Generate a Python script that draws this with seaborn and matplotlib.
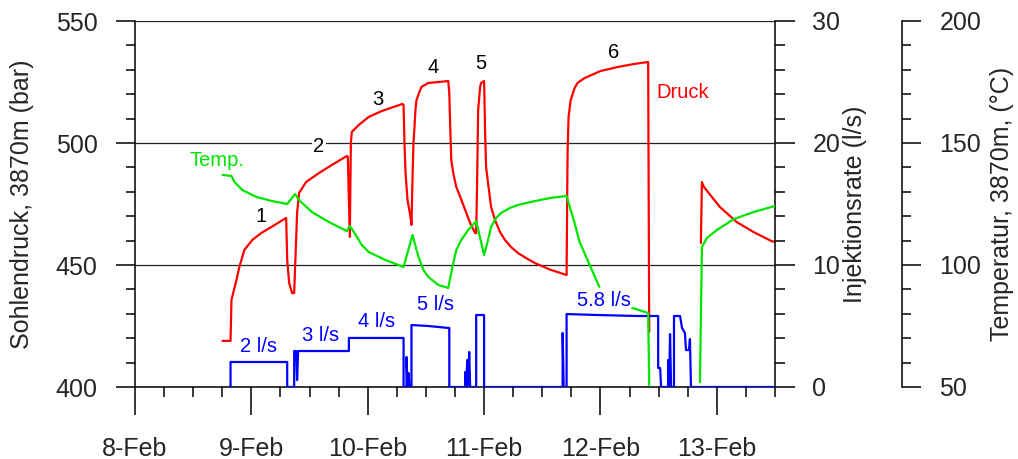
import numpy as np
import pandas as pd
import matplotlib
matplotlib.use("Agg")
import matplotlib.pyplot as plt
import seaborn as sns
from matplotlib.ticker import MultipleLocator, FixedLocator

# ---------------- data (x = days since 8-Feb 00:00) ----------------
x_ticks = [0, 1, 2, 3, 4, 5]
x_labels = ["8-Feb", "9-Feb", "10-Feb", "11-Feb", "12-Feb", "13-Feb"]

# bottom-hole pressure (bar), two recorded stretches
druck_tage_1 = [0.752, 0.821, 0.829, 0.872, 0.897, 0.940, 1.009, 1.085, 1.214, 1.299,
                1.308, 1.325, 1.350, 1.368, 1.376, 1.393, 1.410, 1.470, 1.581, 1.692,
                1.821, 1.829, 1.846, 1.855, 1.863, 1.923, 2.009, 2.120, 2.299, 2.308,
                2.316, 2.325, 2.342, 2.368, 2.376,
                2.385, 2.393, 2.402, 2.410, 2.419, 2.444, 2.462, 2.521, 2.607, 2.692,
                2.701, 2.709, 2.718, 2.735, 2.761, 2.795, 2.838, 2.880, 2.923,
                2.932, 2.940, 2.949, 2.966, 2.974, 3.000,
                3.009, 3.017, 3.034, 3.060, 3.094, 3.137, 3.179, 3.231, 3.291, 3.359,
                3.436, 3.573, 3.709,
                3.715, 3.718, 3.726, 3.744, 3.778, 3.803, 3.863, 4.000, 4.145, 4.291,
                4.410, 4.419]
druck_bar_1 = [418.9, 418.9, 435.7, 443.9, 449.2, 456.2, 460.3, 463.1, 466.8, 469.3,
               452.1, 442.6, 438.5, 438.5, 449.2, 471.3, 479.5, 484.0, 487.7, 491.0,
               494.7, 494.3, 461.5, 500.0, 504.5, 507.4, 510.7, 513.1, 516.0, 515.6,
               500.0, 487.7, 476.6, 469.7, 466.4,
               486.1, 500.0, 506.6, 513.5, 517.6, 520.9, 523.0, 524.6, 525.0, 525.4,
               520.5, 506.6, 493.0, 487.7, 482.0, 477.9, 472.5, 467.2, 463.1,
               463.1, 483.6, 513.5, 523.0, 524.6, 525.4,
               504.1, 490.2, 483.6, 473.8, 468.4, 463.5, 460.3, 457.4, 454.9, 452.9,
               450.8, 448.0, 445.9,
               483.6, 497.1, 510.7, 517.6, 522.5, 524.6, 526.6, 529.5, 531.1, 532.4,
               533.2, 422.6]
druck_tage_2 = [4.863, 4.872, 4.889, 5.026, 5.171, 5.316, 5.470, 5.504]
druck_bar_2 = [459.0, 484.0, 482.0, 473.8, 467.6, 463.5, 459.8, 459.4]

# temperature (deg C), three recorded stretches
temp_tage_1 = [0.752, 0.829, 0.855, 0.923, 1.043, 1.179, 1.308, 1.376, 1.410, 1.521,
               1.667, 1.821, 1.846, 1.897, 1.949, 2.009, 2.154, 2.308, 2.385, 2.436,
               2.479, 2.521, 2.607, 2.692, 2.735, 2.761, 2.803, 2.863, 2.932, 3.000,
               3.034, 3.060, 3.103, 3.145, 3.222, 3.291, 3.436, 3.573, 3.709, 3.744,
               3.778, 3.821, 3.863, 3.915, 3.991]
temp_grad_1 = [136.9, 136.5, 134.0, 130.7, 127.9, 126.2, 125.0, 129.1, 126.6, 121.7,
               117.6, 113.9, 116.0, 112.3, 108.2, 105.3, 102.0, 99.2, 112.3, 103.3,
               97.9, 95.1, 91.8, 90.6, 100.8, 106.1, 110.2, 114.3, 118.0, 104.1,
               110.2, 115.6, 119.3, 121.3, 123.4, 124.6, 126.2, 127.5, 128.3, 122.5,
               117.2, 109.4, 104.9, 99.2, 91.0]
temp_tage_2 = [4.274, 4.410, 4.419]
temp_grad_2 = [82.4, 80.3, 50.8]
temp_tage_3 = [4.855, 4.872, 4.915, 5.000, 5.145, 5.316, 5.470, 5.504]
temp_grad_3 = [52.0, 107.4, 111.1, 114.3, 118.8, 121.7, 123.8, 124.2]

# injection rate (l/s)
rate_tage = [0.821, 0.821, 1.308, 1.308, 1.368, 1.368, 1.385, 1.393, 1.402, 1.838,
             1.838, 2.308, 2.308, 2.333, 2.333, 2.342, 2.350, 2.359, 2.376, 2.376,
             2.521, 2.692, 2.701, 2.701, 2.838, 2.838, 2.846, 2.855, 2.863, 2.872,
             2.880, 2.932, 2.932, 3.000, 3.000, 3.675, 3.675, 3.684, 3.709, 3.709,
             3.974, 4.316, 4.496, 4.496, 4.513, 4.521, 4.581, 4.581, 4.590, 4.598,
             4.607, 4.632, 4.632, 4.684, 4.701, 4.726, 4.735, 4.761, 4.769, 4.778,
             5.504]
rate_ls = [0.0, 2.05, 2.05, 0.0, 0.0, 2.95, 2.95, 0.57, 2.95, 2.95,
           4.02, 4.02, 0.0, 0.0, 2.46, 0.0, 1.15, 0.0, 0.0, 5.08,
           5.00, 4.84, 4.84, 0.0, 0.0, 1.23, 0.0, 2.21, 0.0, 2.87,
           0.0, 0.0, 5.90, 5.90, 0.0, 0.0, 4.43, 0.0, 0.0, 5.98,
           5.90, 5.82, 5.82, 1.56, 1.56, 0.0, 0.0, 2.21, 0.0, 4.34,
           0.0, 0.0, 5.82, 5.82, 4.84, 4.43, 3.03, 3.03, 3.93, 0.0,
           0.0]

# annotations
stufen_text = ["1", "2", "3", "4", "5", "6"]
stufen_x = [1.085, 1.581, 2.085, 2.564, 2.974, 4.111]
stufen_y = [469.7, 498.4, 518.0, 531.1, 532.4, 536.9]
raten_text = ["2 l/s", "3 l/s", "4 l/s", "5 l/s", "5.8 l/s"]
raten_x = [1.06, 1.598, 2.077, 2.581, 4.034]
raten_y = [416.4, 421.0, 427.0, 434.0, 435.6]

# ---------------- plotting ----------------
sns.set_style("ticks")
plt.rcParams["font.family"] = ["Liberation Sans", "DejaVu Sans"]
plt.rcParams["font.size"] = 18

RED, GREEN, BLUE = "#ff0000", "#00e600", "#0000ff"

fig = plt.figure(figsize=(10.18, 4.59), dpi=100)
ax1 = fig.add_axes([135 / 1018, 1 - 387 / 459, 640 / 1018, 366 / 459])
ax2 = ax1.twinx()
ax3 = ax1.twinx()

df_p = pd.DataFrame({"t": druck_tage_1 + druck_tage_2,
                     "v": druck_bar_1 + druck_bar_2,
                     "s": [1] * len(druck_tage_1) + [2] * len(druck_tage_2)})
df_t = pd.DataFrame({"t": temp_tage_1 + temp_tage_2 + temp_tage_3,
                     "v": temp_grad_1 + temp_grad_2 + temp_grad_3,
                     "s": [1] * len(temp_tage_1) + [2] * len(temp_tage_2) + [3] * len(temp_tage_3)})
df_r = pd.DataFrame({"t": rate_tage, "v": rate_ls})

sns.lineplot(data=df_t, x="t", y="v", units="s", estimator=None, sort=False,
             color=GREEN, lw=1.6, ax=ax3, legend=False)
sns.lineplot(data=df_r, x="t", y="v", estimator=None, sort=False,
             color=BLUE, lw=1.6, ax=ax2, legend=False)
sns.lineplot(data=df_p, x="t", y="v", units="s", estimator=None, sort=False,
             color=RED, lw=1.6, ax=ax1, legend=False)

for ax in (ax1, ax2, ax3):
    ax.set_xlim(0, 5.5)
    ax.set_xlabel("")

ax1.set_ylim(400, 550)
ax2.set_ylim(0, 30)
ax3.set_ylim(50, 200)

# x axis
ax1.xaxis.set_major_locator(FixedLocator(x_ticks))
ax1.set_xticklabels(x_labels)
ax1.xaxis.set_minor_locator(MultipleLocator(0.25))
ax1.tick_params(axis="x", which="major", length=20, width=1.1, pad=16, labelsize=18, color="black")
ax1.tick_params(axis="x", which="minor", length=7, width=1.1, color="black")

# left axis
ax1.yaxis.set_major_locator(MultipleLocator(50))
ax1.yaxis.set_minor_locator(MultipleLocator(10))
ax1.tick_params(axis="y", which="major", length=13.5, width=1.1, pad=13.5, labelsize=18, color="black")
ax1.tick_params(axis="y", which="minor", length=6.3, width=1.1, color="black")
ax1.grid(axis="y", which="major", color="#222222", lw=0.9)
ax1.grid(axis="x", visible=False)
ax1.set_ylabel("Sohlendruck, 3870m (bar)", fontsize=18)
ax1.yaxis.set_label_coords((34 - 135) / 640, 0.5)

# rate axis
ax2.yaxis.set_major_locator(MultipleLocator(10))
ax2.yaxis.set_minor_locator(MultipleLocator(2))
ax2.tick_params(axis="y", which="major", length=14.4, width=1.1, pad=12.5, labelsize=18, color="black")
ax2.tick_params(axis="y", which="minor", length=7, width=1.1, color="black")
ax2.set_ylabel("Injektionsrate (l/s)", fontsize=18)
ax2.yaxis.set_label_coords((843 - 135) / 640, 0.5)

# temperature axis
ax3.spines["right"].set_position(("axes", (902 - 135) / 640))
ax3.yaxis.set_major_locator(MultipleLocator(50))
ax3.yaxis.set_minor_locator(MultipleLocator(10))
ax3.tick_params(axis="y", which="major", length=13.4, width=1.1, pad=13.5, labelsize=18, color="black")
ax3.tick_params(axis="y", which="minor", length=6.7, width=1.1, color="black")
ax3.set_ylabel("Temperatur, 3870m, (°C)", fontsize=18)
ax3.yaxis.set_label_coords((990 - 135) / 640, 0.5)

for ax in (ax1, ax2, ax3):
    ax.spines["top"].set_visible(False)
    for sp in ax.spines.values():
        sp.set_linewidth(1.1)
        sp.set_color("black")
ax1.spines["right"].set_visible(False)
ax2.spines["left"].set_visible(False)
ax2.spines["bottom"].set_visible(False)
ax3.spines["left"].set_visible(False)
ax3.spines["bottom"].set_visible(False)
ax2.tick_params(axis="x", which="both", bottom=False, labelbottom=False)
ax3.tick_params(axis="x", which="both", bottom=False, labelbottom=False)

# annotations
for s, x, y in zip(stufen_text, stufen_x, stufen_y):
    ax1.text(x, y, s, fontsize=14.5, color="black", ha="center", va="center",
             bbox=dict(fc="white", ec="none", pad=1.0) if s == "2" else None, zorder=5)
for s, x, y in zip(raten_text, raten_x, raten_y):
    ax1.text(x, y, s, fontsize=14.5, color=BLUE, ha="center", va="center", zorder=5)
ax1.text(0.47, 493.0, "Temp.", fontsize=14.5, color=GREEN, ha="left", va="center")
ax1.text(4.479, 520.5, "Druck", fontsize=14.5, color=RED, ha="left", va="center")

fig.savefig("out.png", dpi=100)
